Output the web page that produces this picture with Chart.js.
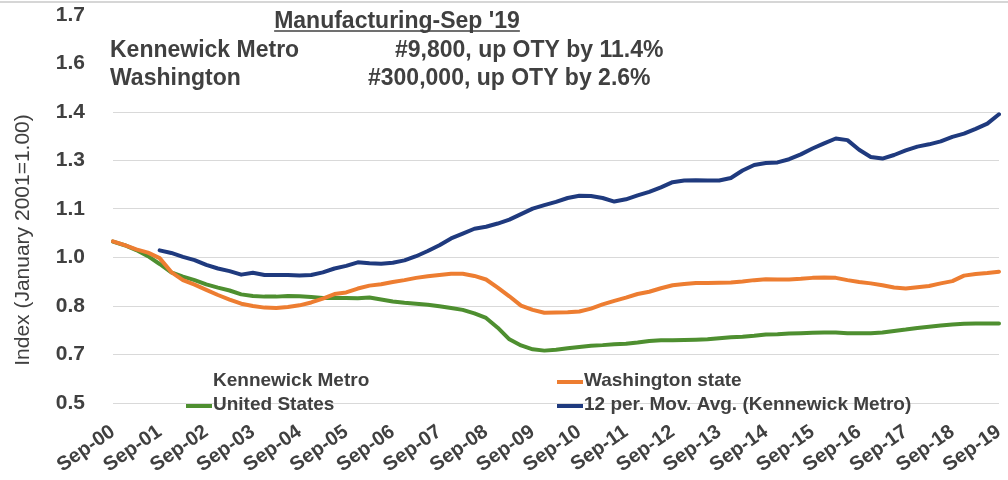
<!DOCTYPE html>
<html>
<head>
<meta charset="utf-8">
<script src="https://cdn.jsdelivr.net/npm/chart.js@4.4.0/dist/chart.umd.min.js"></script>
<style>
body { margin: 0; background: #fff; }
#wrap { width: 1008px; height: 480px; position: relative; }
</style>
</head>
<body>
<div id="wrap"><canvas id="mfgChart"></canvas></div>
<script>
// Manufacturing index (January 2001 = 1.00), quarterly readings Sep-00 .. Sep-19

const yearTicks = ['Sep-00', 'Sep-01', 'Sep-02', 'Sep-03', 'Sep-04', 'Sep-05', 'Sep-06',
    'Sep-07', 'Sep-08', 'Sep-09', 'Sep-10', 'Sep-11', 'Sep-12', 'Sep-13', 'Sep-14',
    'Sep-15', 'Sep-16', 'Sep-17', 'Sep-18', 'Sep-19'];

// Excel rounds the 0.15-step ticks to one decimal
const yTickLabels = ['0.5', '0.7', '0.8', '1.0', '1.1', '1.3', '1.4', '1.6', '1.7'];

const washington = [1.000, 0.988, 0.975, 0.965, 0.948, 0.905, 0.880, 0.866, 0.850, 0.834,
    0.820, 0.807, 0.800, 0.795, 0.794, 0.797, 0.802, 0.811, 0.823, 0.837,
    0.842, 0.854, 0.863, 0.867, 0.874, 0.880, 0.887, 0.892, 0.896, 0.900,
    0.900, 0.893, 0.882, 0.857, 0.830, 0.801, 0.788, 0.779, 0.780, 0.781,
    0.783, 0.792, 0.805, 0.816, 0.826, 0.837, 0.844, 0.855, 0.864, 0.868,
    0.871, 0.871, 0.872, 0.873, 0.876, 0.880, 0.883, 0.882, 0.882, 0.884,
    0.887, 0.888, 0.887, 0.880, 0.874, 0.870, 0.864, 0.857, 0.854, 0.858,
    0.862, 0.870, 0.877, 0.894, 0.899, 0.902, 0.906];

const unitedStates = [0.999, 0.988, 0.973, 0.954, 0.930, 0.904, 0.891, 0.880, 0.867, 0.857,
    0.848, 0.836, 0.831, 0.829, 0.829, 0.831, 0.830, 0.828, 0.825, 0.825,
    0.825, 0.824, 0.826, 0.820, 0.814, 0.810, 0.807, 0.804, 0.799, 0.794,
    0.788, 0.777, 0.763, 0.733, 0.697, 0.678, 0.666, 0.662, 0.665, 0.669,
    0.673, 0.677, 0.679, 0.682, 0.683, 0.687, 0.692, 0.694, 0.694, 0.695,
    0.696, 0.697, 0.700, 0.703, 0.705, 0.708, 0.712, 0.713, 0.715, 0.716,
    0.717, 0.718, 0.718, 0.716, 0.716, 0.716, 0.718, 0.723, 0.727, 0.732,
    0.736, 0.740, 0.743, 0.745, 0.746, 0.746, 0.746];

const kennewickMovAvg = [null, null, null, null,
    0.972, 0.964, 0.952, 0.942, 0.927, 0.916, 0.908, 0.897, 0.903, 0.896,
    0.896, 0.896, 0.894, 0.896, 0.904, 0.916, 0.924, 0.935, 0.932, 0.931,
    0.934, 0.941, 0.954, 0.970, 0.988, 1.009, 1.024, 1.039, 1.045, 1.055,
    1.067, 1.084, 1.101, 1.112, 1.122, 1.134, 1.141, 1.140, 1.134, 1.123,
    1.130, 1.142, 1.153, 1.167, 1.183, 1.188, 1.189, 1.188, 1.188, 1.196,
    1.219, 1.236, 1.242, 1.244, 1.254, 1.269, 1.287, 1.303, 1.318, 1.313,
    1.283, 1.261, 1.256, 1.267, 1.281, 1.293, 1.300, 1.309, 1.323, 1.333,
    1.348, 1.364, 1.393];

// the raw Kennewick series has no visible line in the original
const kennewick = [];

const headerTitle = "Manufacturing-Sep '19";
const headerRows = [
    ['Kennewick Metro', '#9,800, up OTY by 11.4%'],
    ['Washington', '#300,000, up OTY by 2.6%']
];
const yTitle = 'Index (January 2001=1.00)';

// quarterly categories built from the September labels
const quarters = [];
yearTicks.forEach((label, i) => {
    quarters.push(label);
    if (i < yearTicks.length - 1) {
        const yy = label.slice(4);
        const next = yearTicks[i + 1].slice(4);
        quarters.push('Dec-' + yy, 'Mar-' + next, 'Jun-' + next);
    }
});

const textColor = '#404040';
const fontFamily = '"Liberation Sans", Arial, sans-serif';

// header, axis title and legend drawn at fixed spots like the Excel text boxes
const overlayPlugin = {
    id: 'overlay',
    afterDraw(chart) {
        const ctx = chart.ctx;
        ctx.save();

        ctx.strokeStyle = '#c8c8c8';
        ctx.lineWidth = 1.5;
        ctx.beginPath();
        ctx.moveTo(0, 2);
        ctx.lineTo(chart.width, 2);
        ctx.stroke();

        ctx.fillStyle = textColor;
        ctx.textBaseline = 'middle';
        ctx.font = 'bold 23px ' + fontFamily;
        ctx.textAlign = 'center';
        ctx.fillText(headerTitle, 397, 22);
        const tw = ctx.measureText(headerTitle).width;
        ctx.strokeStyle = textColor;
        ctx.lineWidth = 1.5;
        ctx.beginPath();
        ctx.moveTo(397 - tw / 2, 31);
        ctx.lineTo(397 + tw / 2, 31);
        ctx.stroke();

        ctx.textAlign = 'left';
        ctx.fillText(headerRows[0][0], 110, 51);
        ctx.fillText(headerRows[0][1], 395, 51);
        ctx.fillText(headerRows[1][0], 110, 79);
        ctx.fillText(headerRows[1][1], 368, 79);

        ctx.save();
        ctx.font = '21px ' + fontFamily;
        ctx.textAlign = 'center';
        ctx.translate(23, 240);
        ctx.rotate(-Math.PI / 2);
        ctx.fillText(yTitle, 0, 0);
        ctx.restore();

        // legend in two columns
        const spots = [[213, 381], [584, 381], [213, 405], [584, 405]];
        ctx.font = 'bold 19px ' + fontFamily;
        chart.data.datasets.forEach((ds, i) => {
            const [x, y] = spots[i];
            ctx.strokeStyle = ds.borderColor;
            ctx.lineWidth = 4;
            ctx.beginPath();
            ctx.moveTo(x - 27, y + 1);
            ctx.lineTo(x - 1, y + 1);
            ctx.stroke();
            ctx.fillStyle = textColor;
            ctx.fillText(ds.label, x, y);
        });

        ctx.restore();
    }
};

const ctx = document.getElementById('mfgChart').getContext('2d');

const chart = new Chart(ctx, {
    type: 'line',
    data: {
        labels: quarters,
        datasets: [{
            label: 'Kennewick Metro',
            data: kennewick,
            borderColor: 'rgba(0,0,0,0)',
            borderWidth: 0
        }, {
            label: 'Washington state',
            data: washington,
            borderColor: '#ED7D31',
            borderWidth: 4
        }, {
            label: 'United States',
            data: unitedStates,
            borderColor: '#4E8F30',
            borderWidth: 4
        }, {
            label: '12 per. Mov. Avg. (Kennewick Metro)',
            data: kennewickMovAvg,
            borderColor: '#1F3A7E',
            borderWidth: 4
        }]
    },
    options: {
        responsive: true,
        maintainAspectRatio: false,
        animation: false,
        layout: { padding: { top: 15, right: 9, left: 0, bottom: 0 } },
        elements: {
            point: { radius: 0 },
            line: { tension: 0, borderCapStyle: 'round', borderJoinStyle: 'round' }
        },
        plugins: {
            legend: { display: false },
            tooltip: { enabled: false }
        },
        scales: {
            x: {
                grid: { display: false },
                border: { display: false },
                ticks: {
                    autoSkip: false,
                    minRotation: 35,
                    maxRotation: 35,
                    padding: 9,
                    color: textColor,
                    font: { family: fontFamily, size: 20, weight: 'bold' },
                    callback: (value, index) => index % 4 === 0 ? quarters[index] : ''
                },
                afterFit: (scale) => {
                    scale.height = 77;
                    scale.paddingLeft = 0;
                    scale.paddingRight = 0;
                }
            },
            y: {
                min: 0.5,
                max: 1.7,
                border: { display: false },
                grid: {
                    drawTicks: false,
                    lineWidth: 1,
                    color: (c) => c.index >= 7 ? 'rgba(0,0,0,0)' : '#d9d9d9'
                },
                ticks: {
                    stepSize: 0.15,
                    padding: 28,
                    color: textColor,
                    font: { family: fontFamily, size: 21, weight: 'bold' },
                    callback: (value, index) => yTickLabels[index]
                },
                afterFit: (scale) => {
                    scale.width = 113;
                    scale.paddingTop = 0;
                    scale.paddingBottom = 0;
                }
            }
        }
    },
    plugins: [overlayPlugin]
});
</script>
</body>
</html>
